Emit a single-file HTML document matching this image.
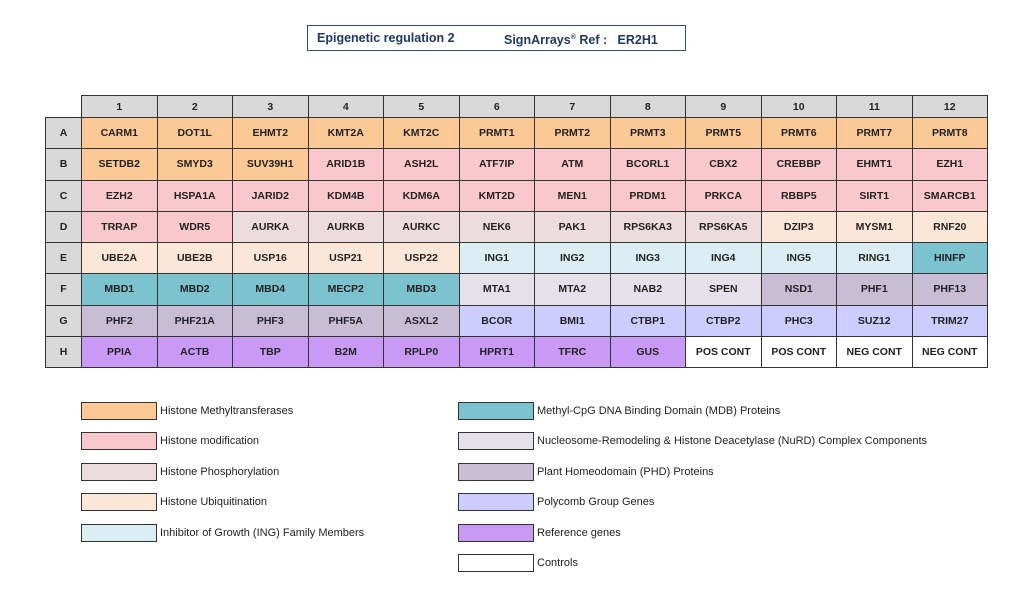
<!DOCTYPE html>
<html><head><meta charset="utf-8"><style>
body{margin:0;width:1024px;height:595px;background:#fff;position:relative;font-family:"Liberation Sans",sans-serif;overflow:hidden}
.t{position:absolute;left:307px;top:25px;width:379px;height:26px;border:1.5px solid #2f4f7a;box-sizing:border-box;color:#1f3864;font-weight:bold;font-size:12.5px;line-height:24px}
table{position:absolute;left:45px;top:95px;border-collapse:collapse;table-layout:fixed;width:942px}
td{border:1px solid #333;text-align:center;font-weight:bold;font-size:10.5px;color:#222;padding:0;height:30.25px;white-space:nowrap;overflow:hidden}
tr.h td{height:21px;background:#d9d9d9}
td.r{background:#d9d9d9}
tr.h td.e{background:#fff;border-top:none;border-left:none}
.M{background:#fbc995}.P{background:#f9c8cc}.S{background:#eddcdd}.U{background:#fce6d8}.I{background:#dbeef3}.D{background:#7cc2cf}.N{background:#e6e0ea}.H{background:#c9bdd6}.G{background:#ccccff}.R{background:#c99af5}.W{background:#fff}
.lb{position:absolute;width:76px;height:18px;border:1px solid #333;box-sizing:border-box}
.lt{position:absolute;font-size:11px;color:#222;line-height:18px}
</style></head><body>
<div class="t"><span style="position:absolute;left:9px">Epigenetic regulation 2</span><span style="position:absolute;left:196px">SignArrays<sup style="font-size:7px">®</sup> Ref :&nbsp;&nbsp; ER2H1</span></div>
<table>
<colgroup><col style="width:36px"><col span="12" style="width:75.5px"></colgroup>
<tr class="h"><td class="e"></td><td>1</td><td>2</td><td>3</td><td>4</td><td>5</td><td>6</td><td>7</td><td>8</td><td>9</td><td>10</td><td>11</td><td>12</td></tr>
<tr><td class="r">A</td><td class="M">CARM1</td><td class="M">DOT1L</td><td class="M">EHMT2</td><td class="M">KMT2A</td><td class="M">KMT2C</td><td class="M">PRMT1</td><td class="M">PRMT2</td><td class="M">PRMT3</td><td class="M">PRMT5</td><td class="M">PRMT6</td><td class="M">PRMT7</td><td class="M">PRMT8</td></tr>
<tr><td class="r">B</td><td class="M">SETDB2</td><td class="M">SMYD3</td><td class="M">SUV39H1</td><td class="P">ARID1B</td><td class="P">ASH2L</td><td class="P">ATF7IP</td><td class="P">ATM</td><td class="P">BCORL1</td><td class="P">CBX2</td><td class="P">CREBBP</td><td class="P">EHMT1</td><td class="P">EZH1</td></tr>
<tr><td class="r">C</td><td class="P">EZH2</td><td class="P">HSPA1A</td><td class="P">JARID2</td><td class="P">KDM4B</td><td class="P">KDM6A</td><td class="P">KMT2D</td><td class="P">MEN1</td><td class="P">PRDM1</td><td class="P">PRKCA</td><td class="P">RBBP5</td><td class="P">SIRT1</td><td class="P">SMARCB1</td></tr>
<tr><td class="r">D</td><td class="P">TRRAP</td><td class="P">WDR5</td><td class="S">AURKA</td><td class="S">AURKB</td><td class="S">AURKC</td><td class="S">NEK6</td><td class="S">PAK1</td><td class="S">RPS6KA3</td><td class="S">RPS6KA5</td><td class="U">DZIP3</td><td class="U">MYSM1</td><td class="U">RNF20</td></tr>
<tr><td class="r">E</td><td class="U">UBE2A</td><td class="U">UBE2B</td><td class="U">USP16</td><td class="U">USP21</td><td class="U">USP22</td><td class="I">ING1</td><td class="I">ING2</td><td class="I">ING3</td><td class="I">ING4</td><td class="I">ING5</td><td class="I">RING1</td><td class="D">HINFP</td></tr>
<tr><td class="r">F</td><td class="D">MBD1</td><td class="D">MBD2</td><td class="D">MBD4</td><td class="D">MECP2</td><td class="D">MBD3</td><td class="N">MTA1</td><td class="N">MTA2</td><td class="N">NAB2</td><td class="N">SPEN</td><td class="H">NSD1</td><td class="H">PHF1</td><td class="H">PHF13</td></tr>
<tr><td class="r">G</td><td class="H">PHF2</td><td class="H">PHF21A</td><td class="H">PHF3</td><td class="H">PHF5A</td><td class="H">ASXL2</td><td class="G">BCOR</td><td class="G">BMI1</td><td class="G">CTBP1</td><td class="G">CTBP2</td><td class="G">PHC3</td><td class="G">SUZ12</td><td class="G">TRIM27</td></tr>
<tr><td class="r">H</td><td class="R">PPIA</td><td class="R">ACTB</td><td class="R">TBP</td><td class="R">B2M</td><td class="R">RPLP0</td><td class="R">HPRT1</td><td class="R">TFRC</td><td class="R">GUS</td><td class="W">POS CONT</td><td class="W">POS CONT</td><td class="W">NEG CONT</td><td class="W">NEG CONT</td></tr>
</table>
<div class="lb M" style="left:81px;top:402px"></div><div class="lt" style="left:160px;top:402px">Histone Methyltransferases</div>
<div class="lb P" style="left:81px;top:432px"></div><div class="lt" style="left:160px;top:432px">Histone modification</div>
<div class="lb S" style="left:81px;top:463px"></div><div class="lt" style="left:160px;top:463px">Histone Phosphorylation</div>
<div class="lb U" style="left:81px;top:493px"></div><div class="lt" style="left:160px;top:493px">Histone Ubiquitination</div>
<div class="lb I" style="left:81px;top:524px"></div><div class="lt" style="left:160px;top:524px">Inhibitor of Growth (ING) Family Members</div>
<div class="lb D" style="left:458px;top:402px"></div><div class="lt" style="left:537px;top:402px">Methyl-CpG DNA Binding Domain (MDB) Proteins</div>
<div class="lb N" style="left:458px;top:432px"></div><div class="lt" style="left:537px;top:432px">Nucleosome-Remodeling &amp; Histone Deacetylase (NuRD) Complex Components</div>
<div class="lb H" style="left:458px;top:463px"></div><div class="lt" style="left:537px;top:463px">Plant Homeodomain (PHD) Proteins</div>
<div class="lb G" style="left:458px;top:493px"></div><div class="lt" style="left:537px;top:493px">Polycomb Group Genes</div>
<div class="lb R" style="left:458px;top:524px"></div><div class="lt" style="left:537px;top:524px">Reference genes</div>
<div class="lb W" style="left:458px;top:554px"></div><div class="lt" style="left:537px;top:554px">Controls</div>
</body></html>
